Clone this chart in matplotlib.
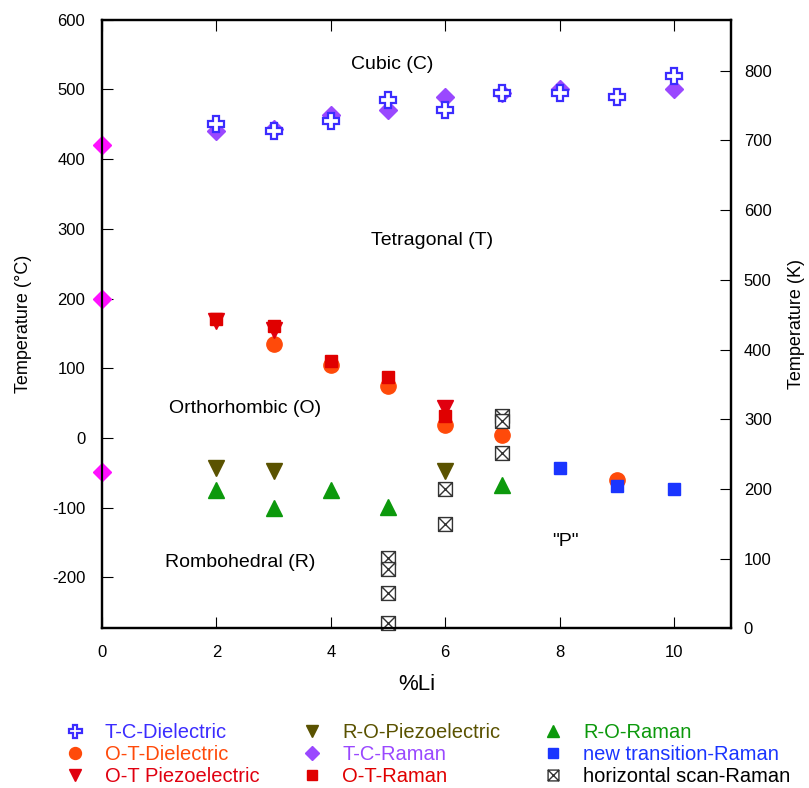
import matplotlib
matplotlib.use("Agg")
import matplotlib.pyplot as plt
from matplotlib.path import Path
import numpy as np

plt.rcParams['font.family'] = ['Liberation Sans', 'DejaVu Sans']
plt.rcParams['axes.unicode_minus'] = False

# ---- data (x = %Li, y = temperature in deg C) ----
tc_diel_x = [2, 3, 4, 5, 6, 7, 8, 9, 10]
tc_diel_y = [450, 440, 455, 485, 470, 495, 495, 489, 519]

ot_diel_x = [3, 4, 5, 6, 7, 9]
ot_diel_y = [135, 104, 75, 19, 5, -60]

ot_piezo_x = [2, 3, 6]
ot_piezo_y = [168, 155, 43]

ro_piezo_x = [2, 3, 6]
ro_piezo_y = [-43, -48, -48]

tc_raman_x = [2, 3, 4, 5, 6, 7, 8, 10]
tc_raman_y = [440, 443, 463, 471, 489, 495, 501, 501]

ot_raman_x = [2, 3, 4, 5, 6]
ot_raman_y = [171, 161, 111, 87, 31]

ro_raman_x = [2, 3, 4, 5, 7]
ro_raman_y = [-75, -101, -74, -99, -67]

new_raman_x = [8, 9, 10]
new_raman_y = [-43, -69, -73]

hscan_x = [7, 7, 7, 6, 6, 5, 5, 5, 5]
hscan_y = [31, 24, -21, -73, -123, -172, -188, -223, -266]

knbo3_x = [0, 0, 0]
knbo3_y = [420, 200, -49]

phase_labels = ["Cubic (C)", "Tetragonal (T)", "Orthorhombic (O)", "Rombohedral (R)", '"P"']
phase_x = [5.07, 5.77, 2.5, 2.42, 8.1]
phase_y = [536, 284, 43, -179, -148]

# boxed-X marker
bx_verts = [(-1, -1), (1, -1), (1, 1), (-1, 1), (-1, -1),
            (-1, -1), (1, 1), (-1, 1), (1, -1)]
bx_codes = [Path.MOVETO, Path.LINETO, Path.LINETO, Path.LINETO, Path.CLOSEPOLY,
            Path.MOVETO, Path.LINETO, Path.MOVETO, Path.LINETO]
boxx = Path(bx_verts, bx_codes)

fig = plt.figure(figsize=(8.09, 7.88), dpi=100)
ax = fig.add_axes([0.126, 0.2025, 0.778, 0.7725])

c_tcd = '#3b2cff'
c_otd = '#ff4a0a'
c_otp = '#e00010'
c_rop = '#5a5200'
c_tcr = '#9a48ff'
c_otr = '#e00000'
c_ror = '#0c990c'
c_new = '#1a35ff'

ax.plot(knbo3_x, knbo3_y, 'D', color='#ff10ff', ms=9, ls='none', clip_on=False, zorder=5)

h = []
h.append(ax.plot(tc_diel_x, tc_diel_y, 'P', ms=12, mfc='white', mec=c_tcd, mew=1.6, ls='none',
                 label='T-C-Dielectric', zorder=4)[0])
h.append(ax.plot(ot_diel_x, ot_diel_y, 'o', ms=11, color=c_otd, ls='none',
                 label='O-T-Dielectric', zorder=3)[0])
h.append(ax.plot(ot_piezo_x, ot_piezo_y, 'v', ms=11, color=c_otp, ls='none',
                 label='O-T Piezoelectric', zorder=3)[0])
h.append(ax.plot(ro_piezo_x, ro_piezo_y, 'v', ms=11, color=c_rop, ls='none',
                 label='R-O-Piezoelectric', zorder=3)[0])
h.append(ax.plot(tc_raman_x, tc_raman_y, 'D', ms=9, color=c_tcr, ls='none',
                 label='T-C-Raman', zorder=3)[0])
h.append(ax.plot(ot_raman_x, ot_raman_y, 's', ms=9, color=c_otr, ls='none',
                 label='O-T-Raman', zorder=4)[0])
h.append(ax.plot(ro_raman_x, ro_raman_y, '^', ms=11, color=c_ror, ls='none',
                 label='R-O-Raman', zorder=3)[0])
h.append(ax.plot(new_raman_x, new_raman_y, 's', ms=9, color=c_new, ls='none',
                 label='new transition-Raman', zorder=4)[0])
h.append(ax.plot(hscan_x, hscan_y, marker=boxx, ms=10, mfc='white', mec='#333333', mew=1.0,
                 ls='none', label='horizontal scan-Raman', zorder=5, clip_on=False)[0])

for t, x, y in zip(phase_labels, phase_x, phase_y):
    ax.text(x, y, t, ha='center', va='center', fontsize=14)

ax.set_xlim(0, 11)
ax.set_ylim(-273.15, 600)
ax.set_xticks([0, 2, 4, 6, 8, 10])
ax.set_yticks(np.arange(-200, 601, 100))
ax.tick_params(axis='both', direction='in', labelsize=12, length=8, width=0.8, pad=12)
ax.tick_params(axis='x', top=True, pad=12)
ax.tick_params(axis='y', right=False)
ax.set_xlabel('%Li', fontsize=16, labelpad=10)
ax.set_ylabel('Temperature (°C)', fontsize=13, labelpad=14)
for s in ax.spines.values():
    s.set_linewidth(1.6)

ax2 = ax.twinx()
ax2.set_ylim(-273.15 + 273.15, 600 + 273.15)
ax2.set_yticks(np.arange(0, 801, 100))
ax2.tick_params(axis='y', direction='in', labelsize=12, length=8, width=0.8, pad=9)
ax2.set_ylabel('Temperature (K)', fontsize=13, labelpad=12)
for s in ax2.spines.values():
    s.set_linewidth(1.6)

colors = [c_tcd, c_otd, c_otp, c_rop, c_tcr, c_otr, c_ror, c_new, 'black']
leg = fig.legend(handles=h, loc='upper left', bbox_to_anchor=(0.080, 0.082), ncol=3,
                 frameon=False, fontsize=14.5, handlelength=1.0, handletextpad=1.0,
                 columnspacing=2.1, labelspacing=0.15, borderaxespad=0, borderpad=0,
                 markerscale=0.78)
for txt, c in zip(leg.get_texts(), colors):
    txt.set_color(c)

fig.savefig('out.png', dpi=100)
